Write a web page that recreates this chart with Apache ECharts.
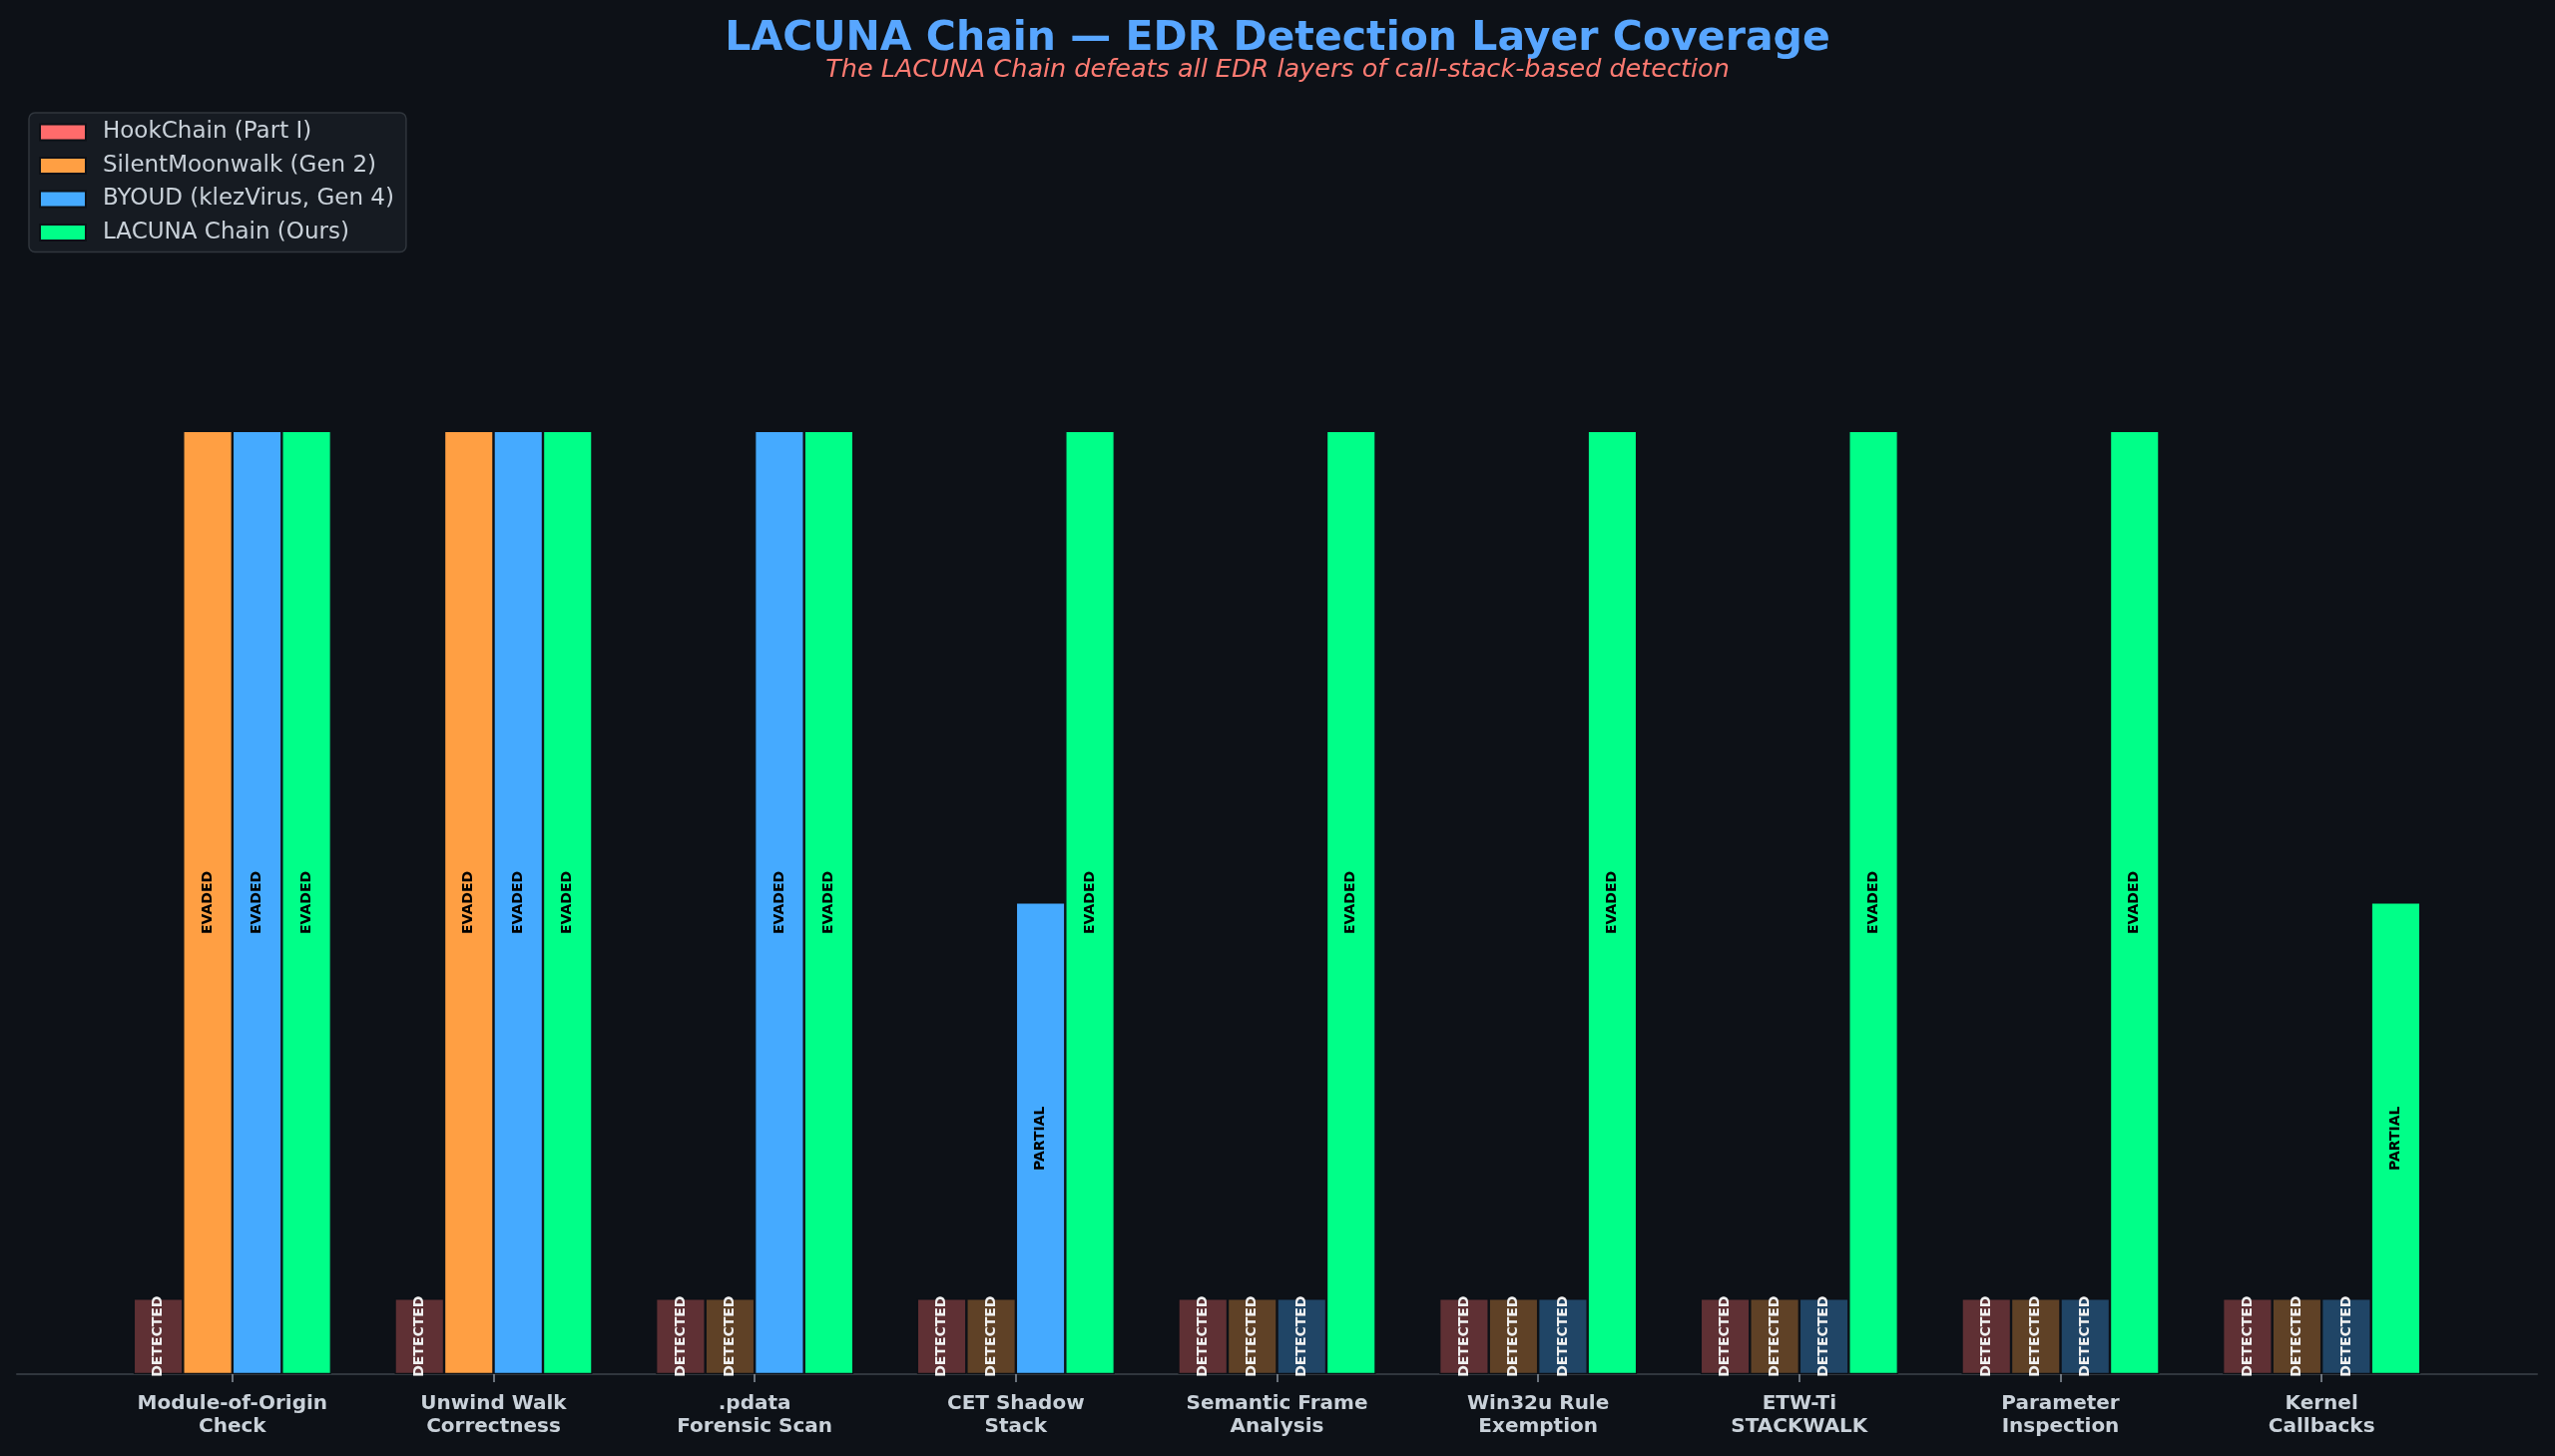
<!DOCTYPE html>
<html>
<head>
<meta charset="utf-8">
<script src="https://cdn.jsdelivr.net/npm/echarts@6/dist/echarts.min.js"></script>
<style>
  html, body { margin: 0; padding: 0; background: #0d1117; }
  #chart { width: 2560px; height: 1459px; }
</style>
</head>
<body>
<div id="chart"></div>
<script>
// categories (two-line labels as in the picture)
const categories = [
  'Module-of-Origin\nCheck',
  'Unwind Walk\nCorrectness',
  '.pdata\nForensic Scan',
  'CET Shadow\nStack',
  'Semantic Frame\nAnalysis',
  'Win32u Rule\nExemption',
  'ETW-Ti\nSTACKWALK',
  'Parameter\nInspection',
  'Kernel\nCallbacks'
]

// bar heights: 1 = evaded, 0.5 = partial, 0.08 = detected
const hookChain = [0.08, 0.08, 0.08, 0.08, 0.08, 0.08, 0.08, 0.08, 0.08]
const silentMoonwalk = [1, 1, 0.08, 0.08, 0.08, 0.08, 0.08, 0.08, 0.08]
const byoud = [1, 1, 1, 0.5, 0.08, 0.08, 0.08, 0.08, 0.08]
const lacuna = [1, 1, 1, 1, 1, 1, 1, 1, 0.5]

const seriesNames = ['HookChain (Part I)', 'SilentMoonwalk (Gen 2)', 'BYOUD (klezVirus, Gen 4)', 'LACUNA Chain (Ours)']
const statusText = { 1: 'EVADED', 0.5: 'PARTIAL', 0.08: 'DETECTED' }

const BG = '#0d1117'
const FONT = 'DejaVu Sans'

function makeSeries (name, values, color, dimColor) {
  return {
    name: name,
    type: 'bar',
    xAxisIndex: 0,
    yAxisIndex: 0,
    barWidth: 49.5,
    barGap: '0%',
    itemStyle: {
      color: color,
      borderColor: BG,
      borderWidth: 1.2
    },
    label: {
      show: true,
      position: 'inside',
      rotate: 90,
      fontFamily: FONT,
      fontSize: 14,
      fontWeight: 'bold',
      formatter: p => statusText[p.value]
    },
    data: values.map(v => {
      const detected = statusText[v] === 'DETECTED'
      return {
        value: v,
        itemStyle: { color: detected ? dimColor : color },
        label: { color: detected ? '#f0f0f0' : '#000000' }
      }
    })
  }
}

const chart = echarts.init(document.getElementById('chart'))

chart.setOption({
  backgroundColor: BG,
  animation: false,
  title: {
    text: 'LACUNA Chain — EDR Detection Layer Coverage',
    subtext: 'The LACUNA Chain defeats all EDR layers of call-stack-based detection',
    left: 'center',
    top: 14,
    itemGap: -3,
    textStyle: { color: '#58a6ff', fontSize: 41, fontWeight: 'bold', fontFamily: FONT },
    subtextStyle: { color: '#ff7b72', fontSize: 25.5, fontStyle: 'italic', fontFamily: FONT }
  },
  legend: {
    orient: 'vertical',
    left: 29,
    top: 113,
    data: seriesNames,
    backgroundColor: '#161b22',
    borderColor: '#30363d',
    borderWidth: 1.5,
    borderRadius: 6,
    padding: [8, 12, 8, 10],
    itemWidth: 46,
    itemHeight: 16,
    itemGap: 10.5,
    icon: 'rect',
    textStyle: { color: '#c9d1d9', fontSize: 23, fontFamily: FONT, padding: [0, 0, 0, 12] }
  },
  grid: [
    { left: 102, right: 103, top: 101, bottom: 82 },
    { left: 17, right: 18, top: 101, bottom: 82 }
  ],
  xAxis: [
    {
      type: 'category',
      gridIndex: 0,
      data: categories,
      axisLine: { show: false },
      axisTick: { show: true, alignWithLabel: true, length: 8, lineStyle: { color: '#8b949e', width: 1.5 } },
      axisLabel: {
        interval: 0,
        margin: 18,
        color: '#c9d1d9',
        fontFamily: FONT,
        fontSize: 20,
        fontWeight: 'bold',
        lineHeight: 23
      },
      splitLine: { show: false }
    },
    {
      type: 'value',
      gridIndex: 1,
      min: 0,
      max: 1,
      axisLine: { show: true, lineStyle: { color: '#30363d', width: 2 } },
      axisTick: { show: false },
      axisLabel: { show: false },
      splitLine: { show: false }
    }
  ],
  yAxis: [
    { type: 'value', gridIndex: 0, min: 0, max: 1.35, show: false, splitLine: { show: false } },
    { type: 'value', gridIndex: 1, min: 0, max: 1, show: false, splitLine: { show: false } }
  ],
  series: [
    makeSeries(seriesNames[0], hookChain, '#ff6b6b', 'rgba(255,107,107,0.34)'),
    makeSeries(seriesNames[1], silentMoonwalk, '#ff9f43', 'rgba(255,159,67,0.34)'),
    makeSeries(seriesNames[2], byoud, '#45aaff', 'rgba(69,170,255,0.34)'),
    makeSeries(seriesNames[3], lacuna, '#00ff88', 'rgba(0,255,136,0.34)')
  ]
})
</script>
</body>
</html>
